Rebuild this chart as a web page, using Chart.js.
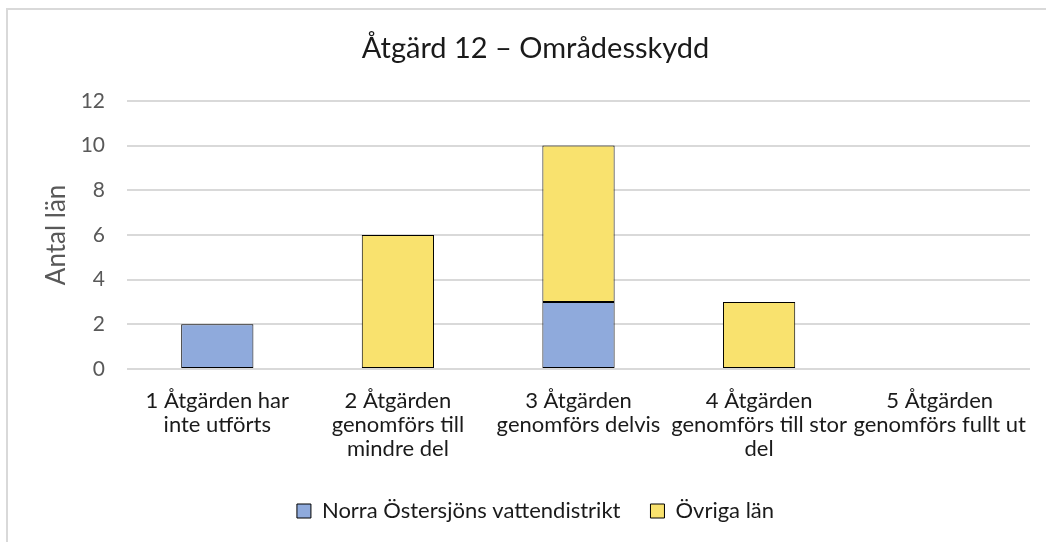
<!DOCTYPE html>
<html lang="sv">
<head>
<meta charset="utf-8">
<title>Åtgärd 12 – Områdesskydd</title>
<script src="https://cdn.jsdelivr.net/npm/chart.js@4.4.1/dist/chart.umd.min.js"></script>
<style>
    html, body { margin: 0; padding: 0; background: #fff; overflow: hidden; width: 1046px; height: 542px; }
    #frame {
        position: absolute; left: 6px; top: 8px;
        width: 1060px; height: 570px;
        border: 2px solid #d9d9d9;
        box-sizing: border-box;
    }
    #chartBox { position: absolute; left: 0; top: 0; width: 1050px; height: 522px; }
</style>
</head>
<body>
<div id="frame">
    <div id="chartBox"><canvas id="mainChart"></canvas></div>
</div>
<script>
// ====================================================
// Data
// ====================================================
const categories = [
    ['1 Åtgärden har', 'inte utförts'],
    ['2 Åtgärden', 'genomförs till', 'mindre del'],
    ['3 Åtgärden', 'genomförs delvis'],
    ['4 Åtgärden', 'genomförs till stor', 'del'],
    ['5 Åtgärden', 'genomförs fullt ut']
];
const norraValues = [2, 0, 3, 0, 0];
const ovrigaValues = [0, 6, 7, 3, 0];
const seriesNames = ['Norra Östersjöns vattendistrikt', 'Övriga län'];
const yTicks = [0, 2, 4, 6, 8, 10, 12];

const chartTitle = 'Åtgärd 12 – Områdesskydd';
const yTitle = 'Antal län';

// ====================================================
// Chart
// ====================================================
(function () {
    'use strict';

    const FONT = 'Lato, "Open Sans", sans-serif';
    const TEXT = '#595959';
    const GRID = '#d9d9d9';

    // empty stacks stay empty (no zero-height outline)
    function noZero(arr) { return arr.map(function (v) { return v === 0 ? null : v; }); }

    const canvas = document.getElementById('mainChart');
    new Chart(canvas.getContext('2d'), {
        type: 'bar',
        data: {
            labels: categories,
            datasets: [{
                label: seriesNames[0],
                data: noZero(norraValues),
                backgroundColor: '#8faadc',
                borderColor: '#000',
                borderWidth: 1,
                borderSkipped: false
            }, {
                label: seriesNames[1],
                data: noZero(ovrigaValues),
                backgroundColor: '#f9e26e',
                borderColor: '#000',
                borderWidth: 1,
                borderSkipped: false
            }]
        },
        options: {
            responsive: true,
            maintainAspectRatio: false,
            animation: false,
            devicePixelRatio: 1,
            // left padding moves title + legend centre to match the original
            layout: { padding: { left: 33, right: 28, top: 0, bottom: 0 } },
            datasets: { bar: { categoryPercentage: 1, barPercentage: 0.4 } },
            plugins: {
                tooltip: { enabled: false },
                title: {
                    display: true,
                    text: chartTitle,
                    color: '#1a1a1a',
                    font: { family: FONT, size: 29, weight: 'normal', lineHeight: 1.2 },
                    padding: { top: 21, bottom: 35 }
                },
                legend: {
                    position: 'bottom',
                    labels: {
                        color: '#1a1a1a',
                        font: { family: FONT, size: 22 },
                        boxWidth: 14,
                        boxHeight: 14,
                        padding: 30
                    }
                }
            },
            scales: {
                x: {
                    stacked: true,
                    grid: { display: false, drawTicks: false },
                    border: { display: false },
                    ticks: {
                        color: '#1a1a1a',
                        font: { family: FONT, size: 22, lineHeight: 1.09 },
                        padding: 20,
                        maxRotation: 0,
                        autoSkip: false
                    },
                    afterFit: function (scale) { scale.height = 101; }
                },
                y: {
                    stacked: true,
                    min: yTicks[0],
                    max: yTicks[yTicks.length - 1],
                    afterBuildTicks: function (scale) {
                        scale.ticks = yTicks.map(function (v) { return { value: v }; });
                    },
                    grid: { color: GRID, lineWidth: 2, drawTicks: false },
                    border: { display: false },
                    ticks: {
                        color: TEXT,
                        font: { family: FONT, size: 21 },
                        padding: 22
                    },
                    title: {
                        display: true,
                        text: yTitle,
                        color: TEXT,
                        font: { family: FONT, size: 26, lineHeight: 1.2 },
                        padding: { top: 0, bottom: 0 }
                    },
                    afterFit: function (scale) { scale.width = 86; }
                }
            }
        }
    });
})();
</script>
</body>
</html>
